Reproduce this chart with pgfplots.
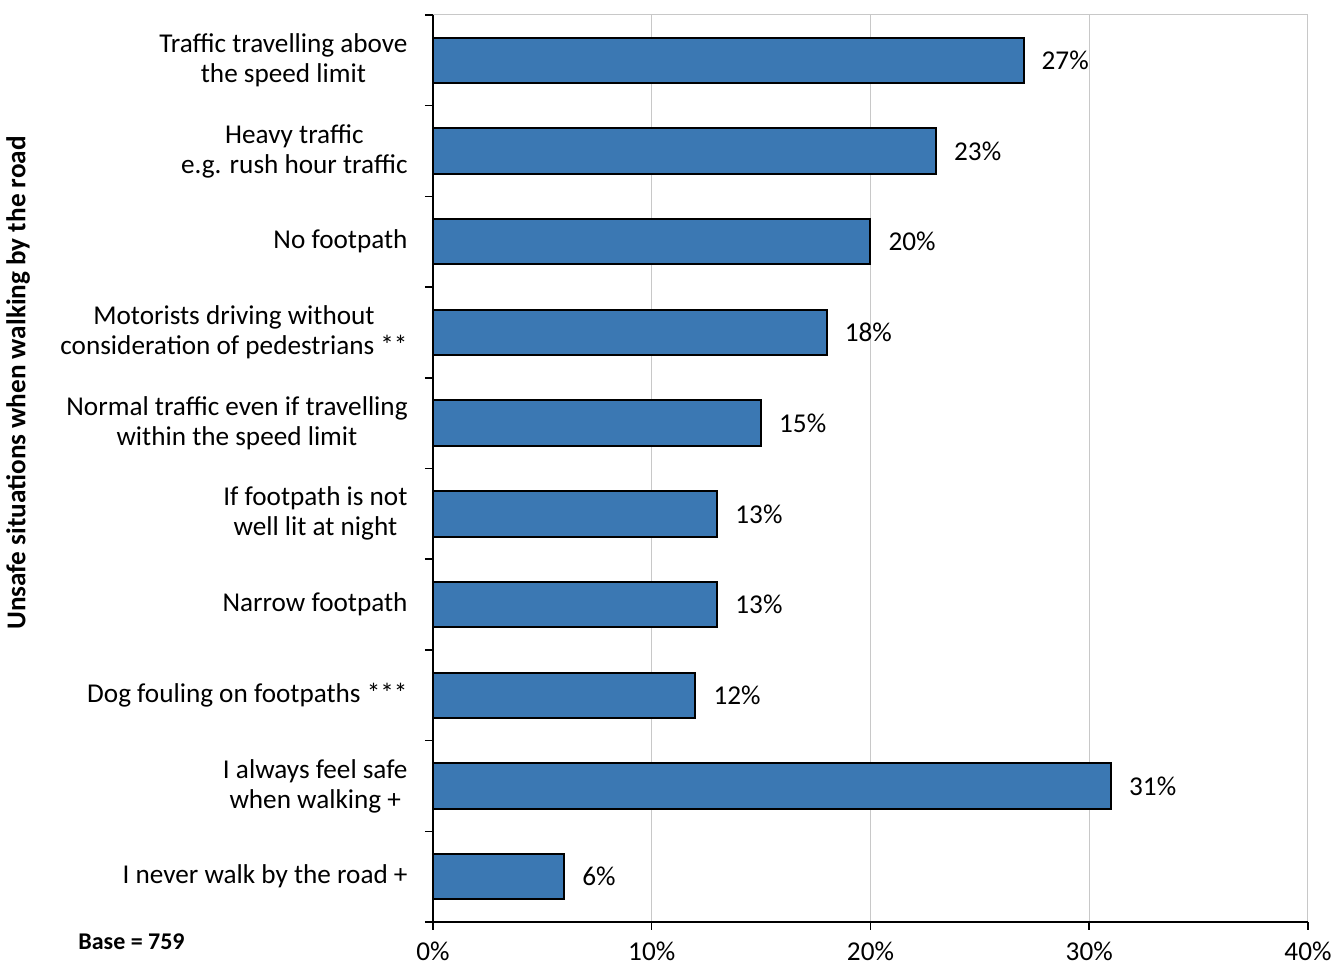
\documentclass[border=0pt]{standalone}
\usepackage{pgfplots}
\pgfplotsset{compat=1.18}
\usepackage{fontspec}
\setmainfont{Carlito}
\definecolor{barblue}{RGB}{59,120,179}
\definecolor{gridgray}{RGB}{200,200,200}
\begin{document}
\fontsize{13.6}{15}\selectfont
\begin{tikzpicture}
\begin{axis}[
  at={(0,0)}, anchor=south west,
  scale only axis, width=437.5pt, height=453.5pt,
  xbar, bar width=0.5,
  xmin=0, xmax=40, ymin=-0.5, ymax=9.5, y dir=reverse,
  axis x line*=bottom, axis y line*=left,
  axis line style={black, line width=0.75pt, -},
  tick align=outside,
  xtick={0,10,20,30,40},
  xticklabel={\pgfmathprintnumber{\tick}\%},
  /pgf/number format/assume math mode=true,
  xmajorgrids, grid style={gridgray, line width=0.5pt},
  major tick length=4pt, minor tick length=4pt,
  tick style={black, line width=0.75pt},
  ytick={0,...,9},
  yticklabels={{Traffic travelling above\\the speed limit},{Heavy traffic\\e.g. rush hour traffic},{No footpath},{Motorists driving without\\consideration of pedestrians **},{Normal traffic even if travelling\\within the speed limit},{If footpath is not\\well lit at night},{Narrow footpath},{Dog fouling on footpaths ***},{I always feel safe\\when walking +},{I never walk by the road +}},
  major y tick style={draw=none},
  minor ytick={-0.5,0.5,1.5,2.5,3.5,4.5,5.5,6.5,7.5,8.5,9.5},
  yticklabel style={align=center, xshift=-4pt, font=\fontsize{13.6}{15}\selectfont},
  xticklabel style={yshift=-1pt, font=\fontsize{13.6}{15}\selectfont},
  nodes near coords={\pgfmathprintnumber{\pgfplotspointmeta}\%},
  nodes near coords style={anchor=west, xshift=4pt, font=\fontsize{13.6}{15}\selectfont},
  clip=false,
]
\addplot[fill=barblue, draw=black, line width=1pt] coordinates {(27,0) (23,1) (20,2) (18,3) (15,4) (13,5) (13,6) (12,7) (31,8) (6,9)};
\draw[gridgray, line width=0.5pt] (axis description cs:0,1) -- (axis description cs:1,1);
\end{axis}
\node[rotate=90, font=\bfseries\fontsize{13.6}{15}\selectfont] at (-207.5pt,269.5pt) {Unsafe situations when walking by the road};
\node[font=\bfseries\fontsize{12}{15}\selectfont] at (-150.75pt,-10pt) {Base = 759};
\pgfresetboundingbox
\path[use as bounding box] (-216.5pt,-22.5pt) rectangle (451pt,461pt);
\end{tikzpicture}
\end{document}
